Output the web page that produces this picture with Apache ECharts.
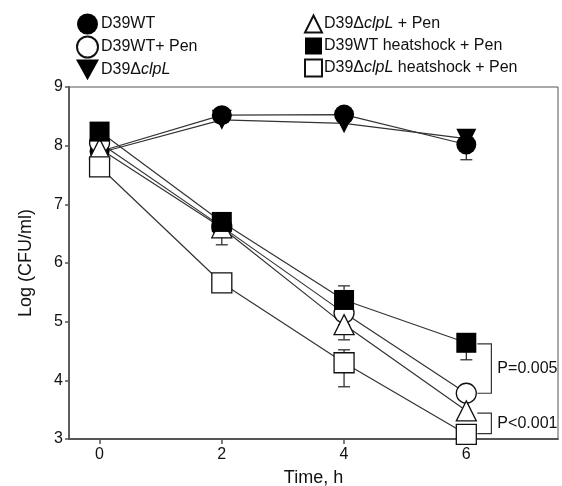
<!DOCTYPE html>
<html>
<head>
<meta charset="utf-8">
<script src="https://cdn.jsdelivr.net/npm/echarts@6/dist/echarts.min.js"></script>
<style>
  html, body { margin: 0; padding: 0; background: #fff; }
  #chart { width: 562px; height: 486px; }
</style>
</head>
<body>
<div id="chart"></div>
<script>
// time points (h)
const time = [0, 2, 4, 6];
const xTicks = [0, 2, 4, 6];

// Log(CFU/ml) per strain / treatment
const wt = [7.9, 8.52, 8.53, 8.02];
const clpL = [7.88, 8.44, 8.38, 8.12];
const wtPen = [8.05, 6.62, 5.15, 3.78];
const clpLPen = [7.95, 6.6, 4.95, 3.48];
const wtHs = [8.24, 6.7, 5.37, 4.64];
const clpLHs = [7.64, 5.66, 4.3, 3.08];

// error bars: [time, low, high]
const errWt = [[6, 7.76, 8.02]];
const errWtPen = [[2, 6.44, 6.62]];
const errClpLPen = [[2, 6.31, 6.6], [4, 4.69, 4.95]];
const errWtHs = [[4, 5.13, 5.61], [6, 4.35, 4.64]];
const errClpLHs = [[4, 3.89, 4.52]];

// significance brackets: [x1, x2, yTop, yBottom, label]
const brackets = [
  [6.18, 6.41, 4.62, 3.78, 'P=0.005'],
  [6.18, 6.41, 3.44, 3.09, 'P<0.001']
];

const names = {
  wt: 'D39WT',
  wtPen: 'D39WT+ Pen',
  clpL: 'D39ΔclpL',
  clpLPen: 'D39ΔclpL + Pen',
  wtHs: 'D39WT heatshock + Pen',
  clpLHs: 'D39ΔclpL heatshock + Pen'
};

const downTri = 'path://M0,0L20,0L10,18Z';
const lineColor = '#333';
const axisColor = '#555';
const font = 'Liberation Sans, Arial, sans-serif';

const pairs = arr => time.map((t, i) => [t, arr[i]]);

function lineSeries(name, data, symbol, filled) {
  return {
    name: name,
    type: 'line',
    data: pairs(data),
    symbol: symbol,
    symbolSize: 20,
    z: 3,
    lineStyle: { color: lineColor, width: 1.2 },
    itemStyle: {
      color: filled ? '#000' : '#fff',
      borderColor: '#111',
      borderWidth: filled ? 0 : 1.3
    },
    emphasis: { disabled: true }
  };
}

const legendRich = {
  n: { fontFamily: font, fontSize: 16, color: '#111' },
  i: { fontFamily: font, fontSize: 16, color: '#111', fontStyle: 'italic' }
};
function legendFmt(name) {
  const k = name.indexOf('clpL');
  if (k < 0) return '{n|' + name + '}';
  return '{n|' + name.slice(0, k) + '}{i|clpL}{n|' + name.slice(k + 4) + '}';
}

const chart = echarts.init(document.getElementById('chart'));

chart.setOption({
  animation: false,
  legend: [
    {
      orient: 'vertical', left: 71, top: 8.5, itemGap: 1,
      itemWidth: 23, itemHeight: 21,
      textStyle: { rich: legendRich, padding: [0, 0, 0, -3] },
      formatter: legendFmt,
      data: [
        { name: names.wt, icon: 'circle' },
        { name: names.wtPen, icon: 'circle' },
        { name: names.clpL, icon: downTri }
      ]
    },
    {
      orient: 'vertical', left: 299, top: 9.5, itemGap: 4,
      itemWidth: 17, itemHeight: 17,
      textStyle: { rich: legendRich, padding: [0, 0, 0, -3] },
      formatter: legendFmt,
      data: [
        { name: names.clpLPen, icon: 'triangle' },
        { name: names.wtHs, icon: 'rect' },
        { name: names.clpLHs, icon: 'rect' }
      ]
    }
  ],
  grid: {
    left: 69, top: 87, right: 4, bottom: 47,
    outerBoundsMode: 'none',
    show: true, borderColor: axisColor, borderWidth: 1
  },
  xAxis: {
    type: 'value', min: -0.5, max: 7.5,
    name: 'Time, h', nameLocation: 'middle', nameGap: 30,
    nameTextStyle: { fontFamily: font, fontSize: 18, color: '#111' },
    axisLine: { onZero: false, lineStyle: { color: axisColor, width: 1.8 } },
    axisTick: { show: true, inside: false, length: 5, customValues: xTicks, lineStyle: { color: axisColor, width: 1.5 } },
    axisLabel: { customValues: xTicks, margin: 8, fontFamily: font, fontSize: 16, color: '#111' },
    splitLine: { show: false }
  },
  yAxis: {
    type: 'value', min: 3, max: 9, interval: 1,
    name: 'Log (CFU/ml)', nameLocation: 'middle', nameGap: 34,
    nameTextStyle: { fontFamily: font, fontSize: 18, color: '#111' },
    axisLine: { show: true, onZero: false, lineStyle: { color: axisColor, width: 1.8 } },
    axisTick: { show: true, length: 4, lineStyle: { color: axisColor, width: 1.5 } },
    axisLabel: { margin: 6, fontFamily: font, fontSize: 16, color: '#111' },
    splitLine: { show: false }
  },
  series: [
    {
      type: 'custom',
      name: 'errors',
      z: 1,
      silent: true,
      data: [].concat(errWt, errWtPen, errClpLPen, errWtHs, errClpLHs),
      renderItem: (params, api) => {
        const x = api.value(0);
        const lo = api.coord([x, api.value(1)]);
        const hi = api.coord([x, api.value(2)]);
        const w = 6;
        const st = { stroke: '#222', lineWidth: 1.2 };
        return {
          type: 'group',
          children: [
            { type: 'line', shape: { x1: lo[0], y1: lo[1], x2: hi[0], y2: hi[1] }, style: st },
            { type: 'line', shape: { x1: lo[0] - w, y1: lo[1], x2: lo[0] + w, y2: lo[1] }, style: st },
            { type: 'line', shape: { x1: hi[0] - w, y1: hi[1], x2: hi[0] + w, y2: hi[1] }, style: st }
          ]
        };
      }
    },
    lineSeries(names.wt, wt, 'circle', true),
    lineSeries(names.clpL, clpL, downTri, true),
    lineSeries(names.wtPen, wtPen, 'circle', false),
    lineSeries(names.clpLPen, clpLPen, 'triangle', false),
    lineSeries(names.wtHs, wtHs, 'rect', true),
    lineSeries(names.clpLHs, clpLHs, 'rect', false),
    {
      type: 'custom',
      name: 'brackets',
      z: 4,
      silent: true,
      data: brackets,
      renderItem: (params, api) => {
        const b = brackets[params.dataIndex];
        const a = api.coord([b[0], b[2]]);
        const c = api.coord([b[1], b[2]]);
        const d = api.coord([b[1], b[3]]);
        const e = api.coord([b[0], b[3]]);
        return {
          type: 'group',
          children: [
            { type: 'polyline', shape: { points: [a, c, d, e] }, style: { stroke: '#333', lineWidth: 1.2, fill: null } },
            {
              type: 'text',
              style: {
                x: c[0] + 6, y: (c[1] + d[1]) / 2,
                text: b[4], font: '16px ' + font, fill: '#111',
                textAlign: 'left', textVerticalAlign: 'middle'
              }
            }
          ]
        };
      }
    }
  ]
});
</script>
</body>
</html>
